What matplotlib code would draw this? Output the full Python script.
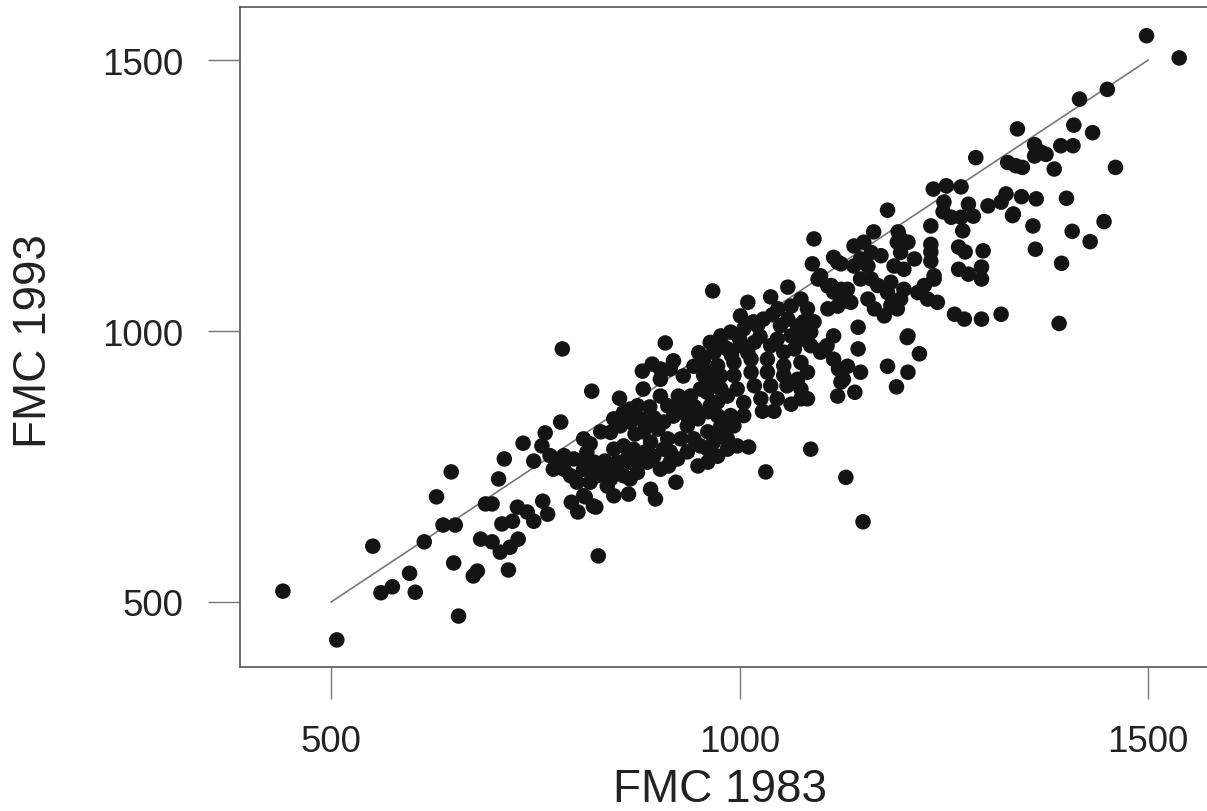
import matplotlib
matplotlib.use("Agg")
import matplotlib.pyplot as plt

# FMC in 1983 (x) and 1993 (y)
fmc_1983 = [
    441, 507, 551, 561, 575, 596, 603, 614, 637, 652, 629, 647, 650, 656, 674, 679,
    683, 697, 689, 697, 705, 712, 707, 719, 729, 709, 722, 728, 740, 748, 759, 765,
    717, 735, 748, 762, 781, 819, 853, 882, 827, 794, 802, 811, 824, 846, 864,
    758, 768, 777, 785, 793, 801, 772, 785, 797, 809, 813, 822, 809, 826, 817, 834,
    842, 850, 858, 866, 875, 846, 858, 866, 875, 842, 854, 866, 879, 846, 858, 870,
    883, 862, 875, 887,
    909, 919, 881, 893, 903, 903, 830, 817, 811, 821, 838, 809, 821, 850, 866, 891,
    897, 922, 882, 891, 900, 895, 907, 915, 903, 924,
    915, 931, 944, 956, 968, 980, 903, 912, 919, 928, 940, 952, 964, 977, 907, 936,
    949, 961, 973, 985, 912, 928, 944, 961, 977, 915, 936, 952, 968, 980, 949, 961,
    973, 985, 913,
    967, 1038, 1059, 1089, 1120, 1096, 1108, 1115, 1124, 1132, 1108, 1120, 1115, 1087,
    1115, 1121, 1127, 1120, 1130, 1011, 1087, 1032, 961, 1063, 1075, 1028, 1042, 1010,
    1001, 1017, 1029, 1047, 1063, 1075, 1083, 1059, 1071, 1078, 1091,
    977, 964, 989, 1005, 1022, 1050, 1046, 1063, 1075, 1087, 1099, 1107, 1067, 1054,
    1038, 1018, 1001, 985, 969, 973, 993, 1014, 1034, 1054, 1075, 1083, 1071, 1054,
    1034, 1014, 993, 973, 956, 960, 977, 997, 1018, 1038, 1058, 1075, 1083, 1046,
    1026, 1005, 964, 973, 989, 1005, 993, 985, 997, 969,
    1181, 1250, 1304, 1320, 1335, 1249, 1259, 1271, 1286, 1234, 1273, 1164, 1194, 1234,
    1234, 1234, 1268, 1276, 1298, 1268, 1280, 1296, 1296, 1263, 1275, 1296, 1320, 1145,
    1206, 1220, 1145, 1181, 1206, 1192, 1103, 1132, 1148, 1124, 1141, 1115, 1124,
    1140, 1152, 1161, 1148, 1173, 1140, 1157, 1193, 1206, 1197, 1214, 1189, 1201, 1099,
    1112, 1124, 1148, 1161, 1169, 1185, 1181, 1197, 1201, 1218, 1226, 1238, 1242, 1230,
    1136, 1157, 1165, 1177, 1185, 1193,
    1359, 1362, 1238, 1205, 1197,
    1326, 1345, 1363, 1400, 1334, 1394, 1407, 1429, 1446, 1391,
    1498, 1538, 1450, 1416, 1340, 1409, 1432, 1361, 1369, 1361, 1375, 1393, 1408, 1328,
    1338, 1346, 1385, 1460,
    1091, 1237, 1253, 1271, 1289, 1280,
    783, 1151,
    950, 960, 990, 1000, 1010, 1025, 890, 895, 925, 935, 890, 945, 1040, 872, 835,
]
fmc_1993 = [
    520, 430, 603, 517, 528, 553, 518, 611, 642, 642, 694, 740, 572, 474, 548, 557,
    616, 611, 681, 681, 727, 764, 592, 601, 616, 644, 649, 675, 666, 649, 686, 662,
    559, 793, 760, 812, 832, 889, 876, 893, 585, 684, 666, 694, 675, 696, 699,
    788, 770, 758, 745, 733, 721, 745, 770, 764, 801, 776, 758, 745, 733, 721, 739,
    727, 745, 733, 727, 739, 838, 850, 856, 862, 813, 825, 832, 838, 782, 788, 782,
    776, 764, 764, 758,
    978, 945, 926, 939, 930, 911, 814, 792, 758, 745, 714, 696, 677, 758, 758, 708,
    690, 721, 814, 795, 819, 769, 782, 758, 745, 764,
    930, 917, 935, 948, 961, 972, 880, 862, 843, 862, 880, 893, 906, 917, 832, 825,
    838, 851, 869, 880, 801, 801, 801, 814, 825, 777, 777, 788, 795, 806, 751, 758,
    769, 782, 751,
    1074, 1063, 1081, 1124, 1127, 1096, 1083, 1072, 1053, 1077, 1041, 1046, 991, 998,
    948, 930, 911, 880, 730, 786, 782, 740, 782, 865, 875, 852, 852, 1053,
    1028, 1017, 1022, 1041, 1046, 1059, 1041, 1022, 1009, 1017, 1017,
    991, 979, 998, 1004, 1010, 1010, 985, 991, 985, 973, 961, 973, 967, 961,
    973, 979, 973, 967, 961, 936, 942, 948, 948, 936, 942, 924, 911, 918,
    924, 924, 918, 911, 918, 887, 893, 893, 899, 899, 899, 893, 875, 875,
    875, 868, 862, 844, 844, 844, 825, 801, 788, 807,
    1223, 1238, 1231, 1238, 1216, 1220, 1210, 1210, 1212, 1194, 1185, 1183, 1183, 1160,
    1146, 1129, 1155, 1146, 1148, 1114, 1105, 1118, 1096, 1031, 1022, 1022, 1031, 1007,
    991, 958, 967, 935, 924, 897, 967, 935, 924, 906, 887, 1136, 1124,
    1157, 1164, 1145, 1133, 1139, 1120, 1120, 1164, 1164, 1145, 1133, 1120, 1114, 1102,
    1084, 1077, 1096, 1096, 1084, 1090, 1071, 1059, 1077, 1071, 1084, 1096, 1053, 1059,
    1053, 1059, 1041, 1028, 1047, 1041,
    1194, 1151, 1102, 988, 1170,
    1253, 1248, 1244, 1245, 1213, 1125, 1184, 1165, 1202, 1014,
    1545, 1504, 1446, 1428, 1373, 1380, 1366, 1344, 1330, 1323, 1326, 1342, 1342, 1311,
    1305, 1302, 1299, 1302,
    1170, 1262, 1268, 1266, 1320, 1234,
    967, 648,
    960, 925, 955, 985, 960, 990, 860, 840, 880, 845, 830, 860, 1030, 810, 760,
]
line_ends = [500, 1500]

fig = plt.figure(figsize=(12.07, 8.12), dpi=100)
ax = fig.add_axes([240 / 1207, 144 / 812, 1 - 240 / 1207, 660 / 812])

ax.plot(line_ends, line_ends, color="#777777", linewidth=1.2, zorder=2)
ax.scatter(fmc_1983, fmc_1993, s=125, color="#141414", edgecolors="none", zorder=3)

ax.set_xlim(388.5, 1572)
ax.set_ylim(380, 1598)
ax.set_xticks([500, 1000, 1500])
ax.set_yticks([500, 1000, 1500])

font = ["Liberation Sans", "DejaVu Sans"]
ax.tick_params(direction="out", length=23, width=1.0, color="#777777",
               labelsize=26.5, labelcolor="#222222", pad=18)
for lab in ax.get_xticklabels() + ax.get_yticklabels():
    lab.set_family(font)

for side in ("left", "bottom", "top"):
    ax.spines[side].set_color("#555555")
    ax.spines[side].set_linewidth(1.2)
ax.spines["right"].set_visible(False)

ax.set_xlabel("FMC 1983", fontsize=33, family=font, color="#222222")
ax.set_ylabel("FMC 1993", fontsize=33, family=font, color="#222222")
ax.xaxis.set_label_coords((720 - 240) / 967, (668 - 790) / 660)
ax.xaxis.label.set_va("center")
ax.yaxis.set_label_coords((34 - 240) / 967, (668 - 341) / 660)
ax.yaxis.label.set_va("center")

fig.savefig("out.png", dpi=100)
